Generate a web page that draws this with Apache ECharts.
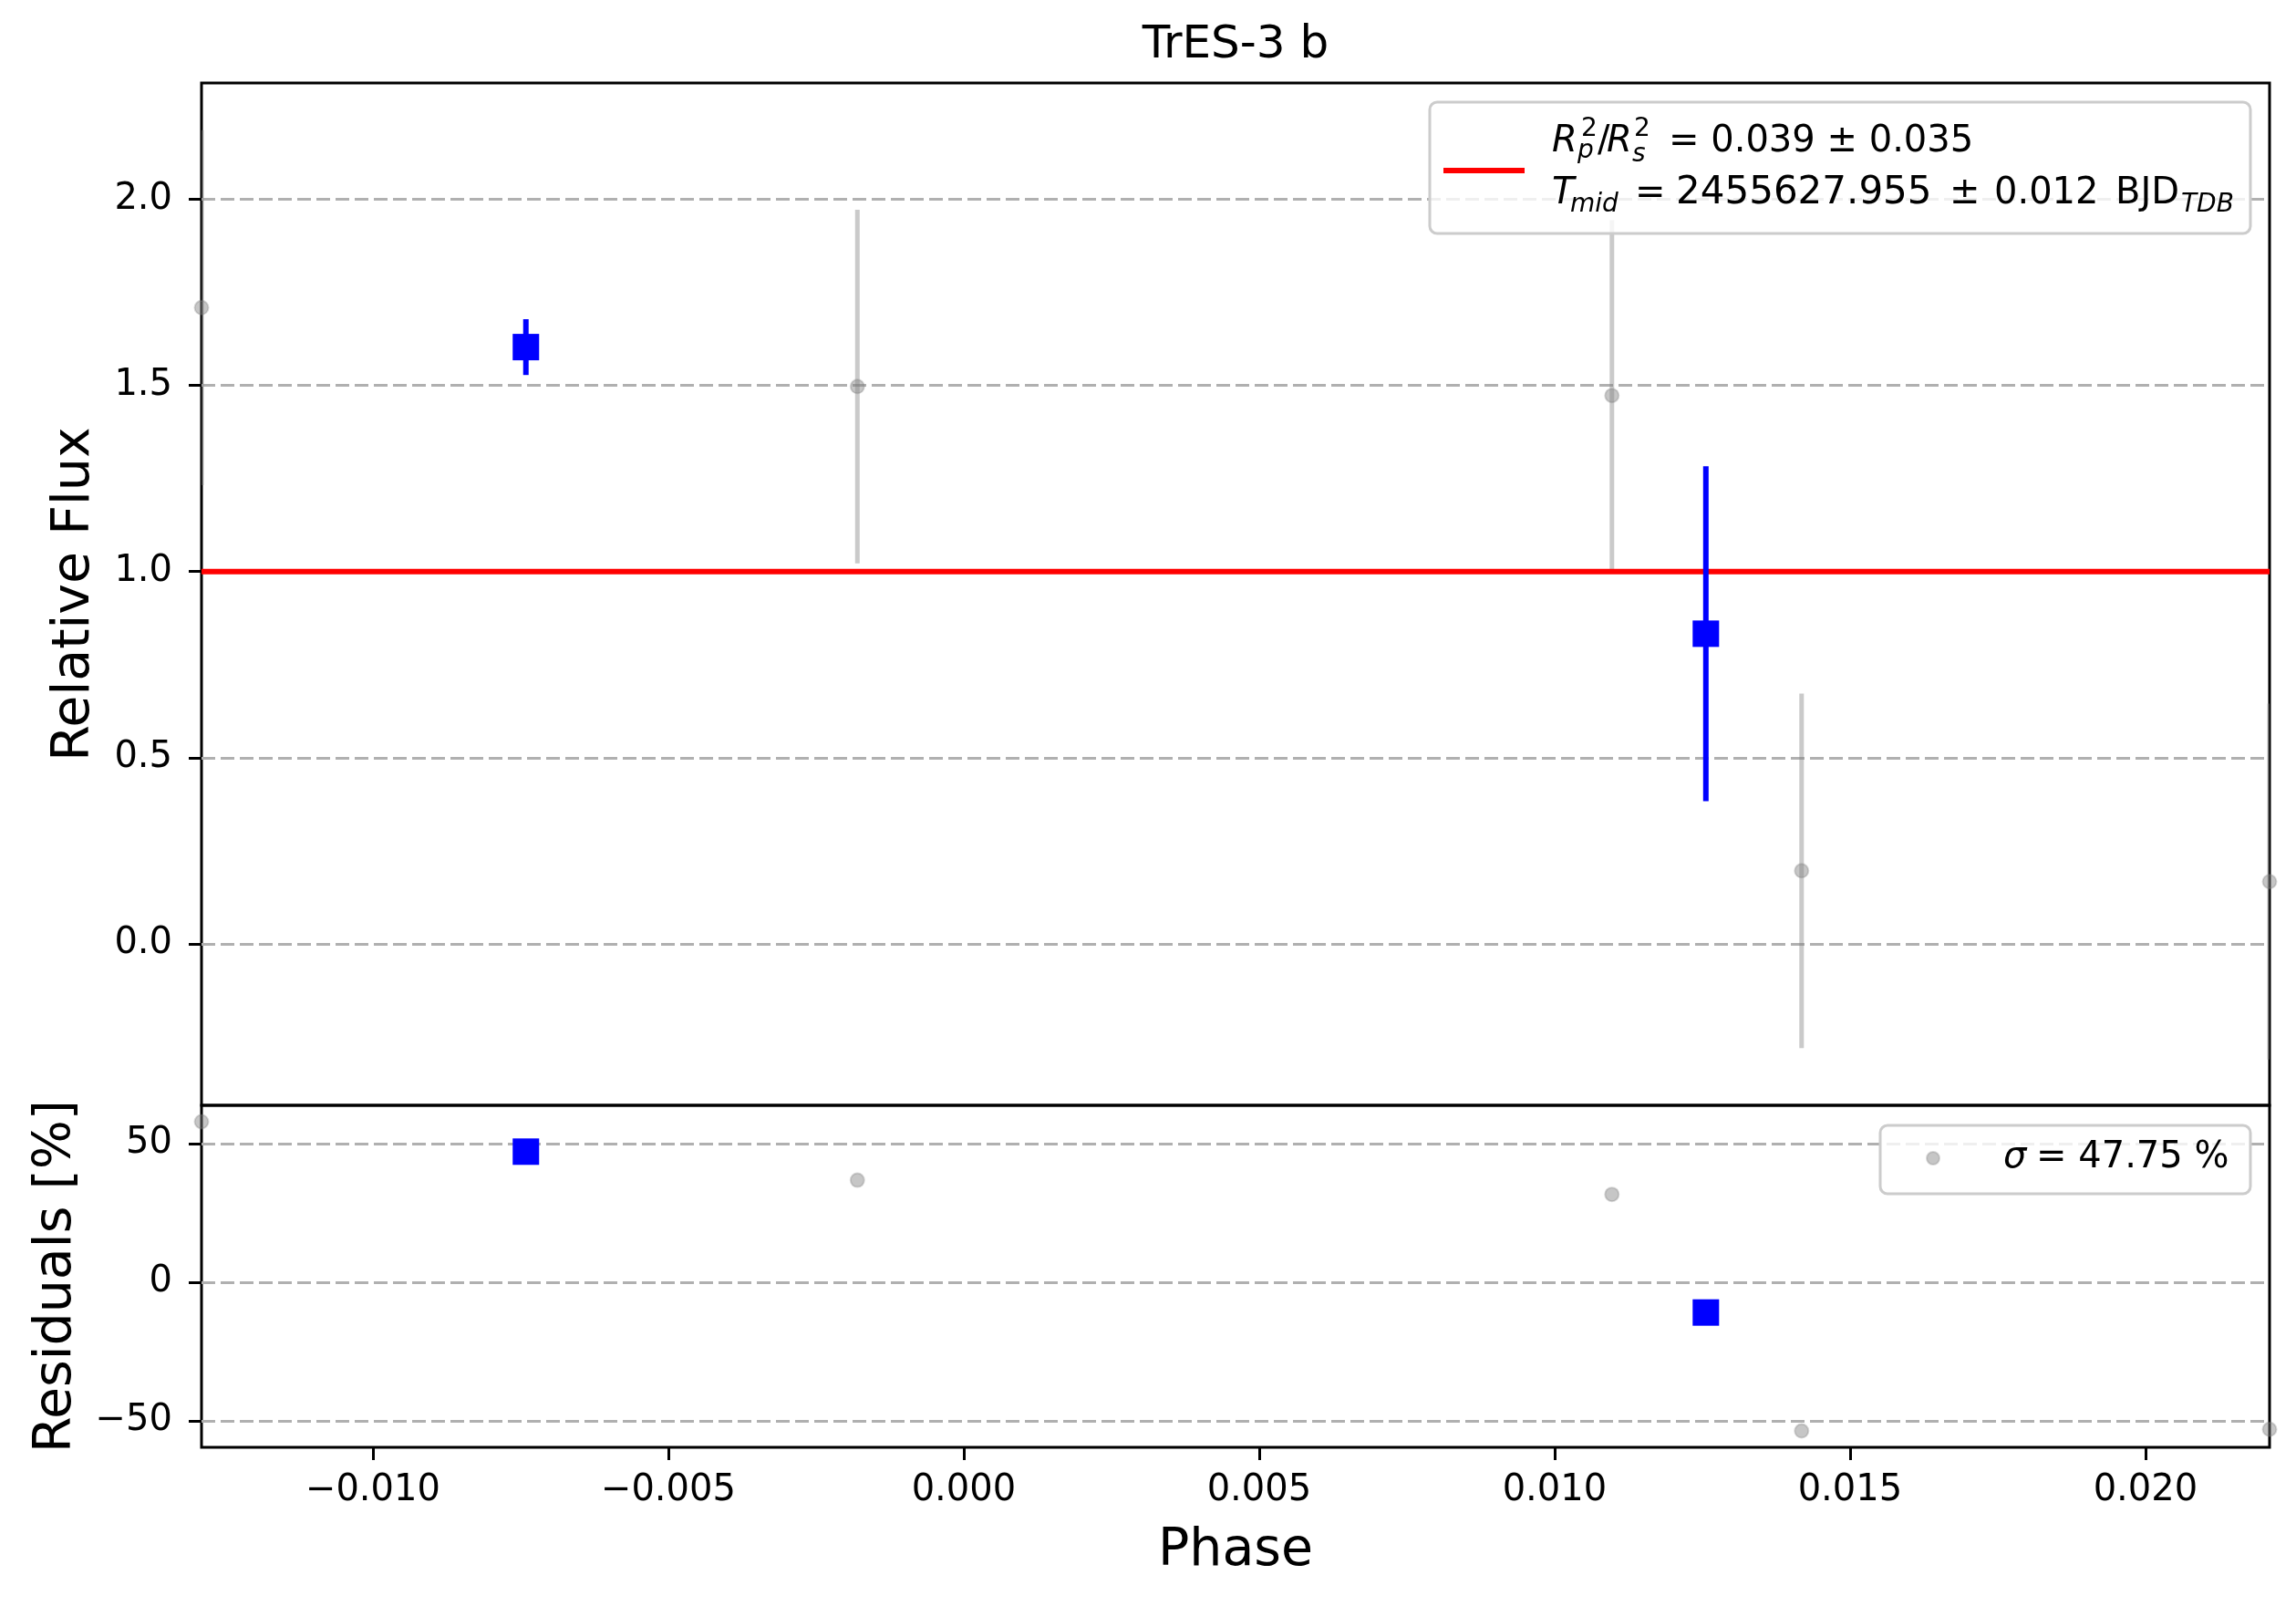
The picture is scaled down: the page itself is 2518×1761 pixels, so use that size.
<!DOCTYPE html>
<html>
<head>
<meta charset="utf-8">
<script src="https://cdn.jsdelivr.net/npm/echarts@6/dist/echarts.min.js"></script>
<style>
  body { margin: 0; background: #fff; }
  #chart { width: 2518px; height: 1761px; }
</style>
</head>
<body>
<div id="chart"></div>
<script>
// data
var grayPhase = [-0.0129, -0.0018, 0.01097, 0.01418, 0.0221];
var grayFlux = [1.709, 1.497, 1.473, 0.196, 0.167];
var grayErr = [0.477, 0.475, 0.471, 0.476, 0.478];
var grayResid = [57.9, 36.8, 31.7, -53.6, -53.0];

var bluePhase = [-0.00741, 0.01256];
var blueFlux = [1.603, 0.833];
var blueErr = [0.075, 0.45];
var blueResid = [47.1, -10.9];

var modelPhase = [-0.0129, 0.0221];
var modelFlux = [1.0, 1.0];

var phaseTicks = [-0.010, -0.005, 0, 0.005, 0.010, 0.015, 0.020];
var fluxTicks = [0, 0.5, 1.0, 1.5, 2.0];
var residTicks = [-50, 0, 50];

var FONT = '"DejaVu Sans", "Noto Sans", sans-serif';

function minus(s) { return s.replace('-', '\u2212'); }

function errBars(color, width) {
    return function (params, api) {
        var x = api.value(0), y = api.value(1), e = api.value(2);
        var p1 = api.coord([x, y - e]);
        var p2 = api.coord([x, y + e]);
        return {
            type: 'line',
            shape: { x1: p1[0], y1: p1[1], x2: p2[0], y2: p2[1] },
            style: { stroke: color, lineWidth: width }
        };
    };
}

// legend text piece
function txt(str, x, y, size, italic) {
    return {
        type: 'text', z: 101, x: x, y: y,
        style: { text: str, font: (italic ? 'italic ' : '') + size + 'px ' + FONT, fill: '#000', verticalAlign: 'middle' }
    };
}

var grayPts = [], grayBars = [], grayRes = [];
for (var i = 0; i < grayPhase.length; i++) {
    grayPts.push([grayPhase[i], grayFlux[i]]);
    grayBars.push([grayPhase[i], grayFlux[i], grayErr[i]]);
    grayRes.push([grayPhase[i], grayResid[i]]);
}
var bluePts = [], blueBars = [], blueRes = [];
for (i = 0; i < bluePhase.length; i++) {
    bluePts.push([bluePhase[i], blueFlux[i]]);
    blueBars.push([bluePhase[i], blueFlux[i], blueErr[i]]);
    blueRes.push([bluePhase[i], blueResid[i]]);
}
var model = [];
for (i = 0; i < modelPhase.length; i++) model.push([modelPhase[i], modelFlux[i]]);

var gridLine = { show: true, lineStyle: { color: '#b0b0b0', width: 3, type: [15, 6] } };
var tick = { show: true, length: 14, lineStyle: { color: '#000', width: 3 } };
var noLine = { show: false, onZero: false };
var grayDot = { color: 'rgba(128,128,128,0.45)', borderColor: 'rgba(128,128,128,0.3)', borderWidth: 2, opacity: 1 };

var myChart = echarts.init(document.getElementById('chart'));

var options = {
    animation: false,
    backgroundColor: '#fff',
    grid: [
        { left: 221, right: 29, top: 91, height: 1121, show: true, borderColor: '#000', borderWidth: 3 },
        { left: 221, right: 29, top: 1212, height: 375, show: true, borderColor: '#000', borderWidth: 3 }
    ],
    xAxis: [
        {
            type: 'value', gridIndex: 0, min: -0.0129, max: 0.0221,
            axisLine: noLine, axisTick: { show: false }, axisLabel: { show: false },
            splitLine: { show: false }
        },
        {
            type: 'value', gridIndex: 1, min: -0.0129, max: 0.0221,
            name: 'Phase', nameLocation: 'middle', nameGap: 86,
            nameTextStyle: { fontSize: 57, fontFamily: FONT, color: '#000' },
            axisLine: noLine,
            axisTick: Object.assign({ customValues: phaseTicks }, tick),
            axisLabel: {
                customValues: phaseTicks, fontSize: 40, fontFamily: FONT, color: '#000', margin: 28,
                formatter: function (v) { return minus(v.toFixed(3)); }
            },
            splitLine: { show: false }
        }
    ],
    yAxis: [
        {
            type: 'value', gridIndex: 0, min: -0.434, max: 2.3125,
            name: 'Relative Flux', nameLocation: 'middle', nameGap: 110,
            nameTextStyle: { fontSize: 57, fontFamily: FONT, color: '#000' },
            axisLine: noLine,
            axisTick: Object.assign({ customValues: fluxTicks }, tick),
            axisLabel: {
                customValues: fluxTicks, fontSize: 40, fontFamily: FONT, color: '#000', margin: 32,
                formatter: function (v) { return minus(v.toFixed(1)); }
            },
            splitLine: gridLine
        },
        {
            type: 'value', gridIndex: 1, min: -59.5, max: 63.8,
            name: 'Residuals [%]', nameLocation: 'middle', nameGap: 130,
            nameTextStyle: { fontSize: 57, fontFamily: FONT, color: '#000' },
            axisLine: noLine,
            axisTick: Object.assign({ customValues: residTicks }, tick),
            axisLabel: {
                customValues: residTicks, fontSize: 40, fontFamily: FONT, color: '#000', margin: 32,
                formatter: function (v) { return minus(String(Math.round(v))); }
            },
            splitLine: gridLine
        }
    ],
    series: [
        {
            type: 'custom', xAxisIndex: 0, yAxisIndex: 0, clip: true, z: 2,
            renderItem: errBars('rgba(128,128,128,0.42)', 5),
            data: grayBars
        },
        {
            type: 'scatter', xAxisIndex: 0, yAxisIndex: 0, clip: true, z: 3,
            symbol: 'circle', symbolSize: 15, itemStyle: grayDot,
            data: grayPts
        },
        {
            type: 'line', xAxisIndex: 0, yAxisIndex: 0, z: 4,
            showSymbol: false, symbol: 'none',
            lineStyle: { color: '#ff0000', width: 6 },
            data: model
        },
        {
            type: 'custom', xAxisIndex: 0, yAxisIndex: 0, clip: true, z: 5,
            renderItem: errBars('#0000ff', 6),
            data: blueBars
        },
        {
            type: 'scatter', xAxisIndex: 0, yAxisIndex: 0, clip: true, z: 6,
            symbol: 'rect', symbolSize: 29,
            itemStyle: { color: '#0000ff', opacity: 1 },
            data: bluePts
        },
        {
            type: 'scatter', xAxisIndex: 1, yAxisIndex: 1, clip: true, z: 3,
            symbol: 'circle', symbolSize: 15, itemStyle: grayDot,
            data: grayRes
        },
        {
            type: 'scatter', xAxisIndex: 1, yAxisIndex: 1, clip: true, z: 6,
            symbol: 'rect', symbolSize: 29,
            itemStyle: { color: '#0000ff', opacity: 1 },
            data: blueRes
        }
    ],
    graphic: [
        // title
        { type: 'text', x: 1355, y: 50, z: 100, style: { text: 'TrES-3 b', font: '50px ' + FONT, fill: '#000', align: 'center', verticalAlign: 'middle' } },
        // main legend
        { type: 'rect', z: 100, shape: { x: 1568, y: 112, width: 900, height: 144, r: 8 },
          style: { fill: 'rgba(255,255,255,0.8)', stroke: '#cccccc', lineWidth: 3 } },
        { type: 'line', z: 101, shape: { x1: 1583, y1: 187, x2: 1672, y2: 187 }, style: { stroke: '#ff0000', lineWidth: 6 } },
        txt('R', 1702, 156, 40, true),
        txt('2', 1734, 142, 28, false),
        txt('p', 1730, 166, 28, true),
        txt('/', 1752, 156, 40, false),
        txt('R', 1762, 156, 40, true),
        txt('2', 1792, 142, 28, false),
        txt('s', 1790, 170, 28, true),
        txt('= 0.039 \u00b1 0.035', 1830, 156, 40, false),
        txt('T', 1702, 213, 40, true),
        txt('mid', 1722, 225, 28, true),
        txt('=', 1793, 213, 40, false),
        txt('2455627.955', 1838, 212, 42, false),
        txt('\u00b1', 2138, 213, 40, false),
        txt('0.012', 2187, 213, 40, false),
        txt('BJD', 2320, 213, 40, false),
        txt('TDB', 2392, 225, 28, true),
        // residual legend
        { type: 'rect', z: 100, shape: { x: 2062, y: 1234, width: 406, height: 75, r: 8 },
          style: { fill: 'rgba(255,255,255,0.8)', stroke: '#cccccc', lineWidth: 3 } },
        { type: 'circle', z: 101, shape: { cx: 2120, cy: 1270, r: 7 },
          style: { fill: 'rgba(128,128,128,0.45)', stroke: 'rgba(128,128,128,0.3)', lineWidth: 2 } },
        txt('\u03c3', 2197, 1270, 40, true),
        txt('= 47.75 %', 2233, 1270, 40, false)
    ]
};

myChart.setOption(options);
</script>
</body>
</html>
